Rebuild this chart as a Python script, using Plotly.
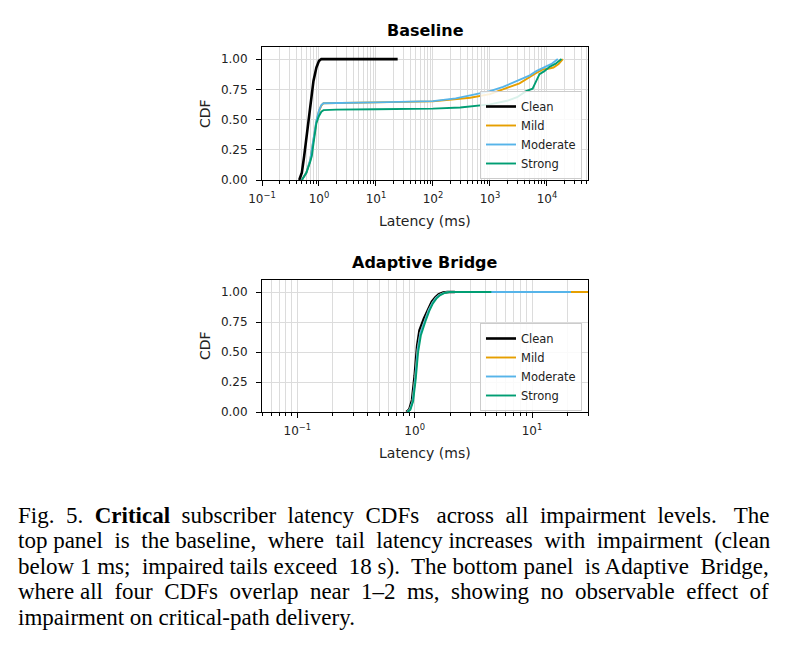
import plotly.graph_objects as go

W, H = 785, 657
OFF = 8  # the page body adds an 8px margin around the figure

# ---- data (latency in ms, CDF) ----
series = ["Clean", "Mild", "Moderate", "Strong"]
colors = ["#000000", "#E69F00", "#56B4E9", "#009E73"]
widths = [2.6, 1.9, 1.9, 1.9]

# Baseline panel
base_clean_x = [0.45, 0.5, 0.55, 0.6, 0.65, 0.7, 0.75, 0.8, 0.9, 1.0, 1.1, 1.5, 3, 10, 24]
base_clean_y = [0, 0.06, 0.2, 0.35, 0.5, 0.63, 0.74, 0.82, 0.93, 0.985, 1.0, 1.0, 1.0, 1.0, 1.0]
base_mild_x = [0.5, 0.6, 0.7, 0.8, 0.85, 0.9, 1.0, 1.1, 1.2, 2, 10, 100, 250, 450, 1000,
               1700, 3300, 6500, 8500, 10500, 13000, 16000, 19000]
base_mild_y = [0, 0.06, 0.16, 0.32, 0.42, 0.48, 0.57, 0.615, 0.635, 0.638, 0.642, 0.65, 0.665,
               0.68, 0.71, 0.748, 0.80, 0.885, 0.915, 0.92, 0.93, 0.96, 1.0]
base_mod_x = [0.5, 0.6, 0.7, 0.8, 0.85, 0.9, 1.0, 1.1, 1.2, 2, 10, 100, 250, 450, 1000,
              1700, 3300, 5000, 6500, 9800, 12000, 15500]
base_mod_y = [0, 0.06, 0.165, 0.33, 0.43, 0.49, 0.575, 0.62, 0.635, 0.638, 0.642, 0.652, 0.675,
              0.70, 0.735, 0.77, 0.83, 0.865, 0.90, 0.94, 0.96, 1.0]
base_strong_x = [0.5, 0.6, 0.7, 0.75, 0.8, 0.85, 0.9, 1.0, 1.1, 1.2, 2, 10, 100, 300, 1000,
                 2000, 3000, 4300, 5600, 6500, 7400, 9000, 11000, 14000, 18000]
base_strong_y = [0, 0.06, 0.15, 0.2, 0.3, 0.4, 0.47, 0.53, 0.565, 0.578, 0.582, 0.585, 0.59,
                 0.6, 0.625, 0.655, 0.685, 0.735, 0.755, 0.82, 0.875, 0.9, 0.935, 0.96, 1.0]

# Adaptive Bridge panel
ab_clean_x = [0.85, 0.9, 0.95, 1.0, 1.05, 1.1, 1.2, 1.3, 1.4, 1.5, 1.6, 1.75, 1.9, 2.2]
ab_clean_y = [0, 0.02, 0.1, 0.3, 0.55, 0.68, 0.78, 0.86, 0.92, 0.955, 0.98, 0.995, 1.0, 1.0]
ab_mild_x = [0.86, 0.91, 0.96, 1.01, 1.06, 1.12, 1.22, 1.32, 1.42, 1.52, 1.62, 1.78, 1.95, 5, 20, 35]
ab_mild_y = [0, 0.02, 0.09, 0.28, 0.52, 0.66, 0.76, 0.85, 0.91, 0.95, 0.975, 0.993, 1.0, 1.0, 1.0, 1.0]
ab_mod_x = [0.86, 0.91, 0.96, 1.01, 1.06, 1.12, 1.22, 1.32, 1.42, 1.52, 1.62, 1.78, 1.95, 5, 21.5]
ab_mod_y = [0, 0.02, 0.09, 0.28, 0.52, 0.66, 0.76, 0.85, 0.91, 0.95, 0.975, 0.993, 1.0, 1.0, 1.0]
ab_strong_x = [0.87, 0.92, 0.97, 1.02, 1.07, 1.13, 1.23, 1.33, 1.43, 1.53, 1.64, 1.8, 1.97, 4.5]
ab_strong_y = [0, 0.02, 0.09, 0.27, 0.5, 0.64, 0.75, 0.84, 0.905, 0.945, 0.972, 0.992, 1.0, 1.0]

base_data = [(base_clean_x, base_clean_y), (base_mild_x, base_mild_y),
             (base_mod_x, base_mod_y), (base_strong_x, base_strong_y)]
ab_data = [(ab_clean_x, ab_clean_y), (ab_mild_x, ab_mild_y),
           (ab_mod_x, ab_mod_y), (ab_strong_x, ab_strong_y)]

y_ticks = [0, 0.25, 0.5, 0.75, 1.0]
top_major = [0.1, 1, 10, 100, 1000, 10000]
top_labels = ["10<sup>\u22121</sup>", "10<sup>0</sup>", "10<sup>1</sup>",
              "10<sup>2</sup>", "10<sup>3</sup>", "10<sup>4</sup>"]
bot_major = [0.1, 1, 10]
bot_labels = ["10<sup>\u22121</sup>", "10<sup>0</sup>", "10<sup>1</sup>"]

caption = [
    "Fig. 5.\u00a0\u00a0<b>Critical</b> subscriber latency CDFs across all impairment levels. The",
    "top panel is the baseline, where tail latency increases with impairment (clean",
    "below 1 ms; impaired tails exceed 18 s). The bottom panel is Adaptive Bridge,",
    "where all four CDFs overlap near 1\u20132 ms, showing no observable effect of",
    "impairment on critical-path delivery.",
]
# extra spaces per line to imitate the justified caption
caption_pad = [11, 8, 5, 11, 0]


def px(x):
    return (x - OFF) / W


def py(y):
    return 1 - (y - OFF) / H


def minor_vals(lo_dec, hi_dec):
    vals = []
    for d in range(lo_dec, hi_dec + 1):
        for m in range(2, 10):
            vals.append(m * 10.0 ** d)
    return vals


def justify(line, n):
    words = line.split(" ")
    gaps = len(words) - 1
    out = words[0]
    for g in range(gaps):
        k = (g + 1) * n // gaps - g * n // gaps
        out += "\u00a0" * k + " " + words[g + 1]
    return out


fig = go.Figure()

for i, name in enumerate(series):
    x, y = base_data[i]
    fig.add_trace(go.Scatter(x=x, y=y, mode="lines", name=name,
                             line=dict(color=colors[i], width=widths[i]),
                             xaxis="x", yaxis="y", legend="legend"))
for i, name in enumerate(series):
    x, y = ab_data[i]
    fig.add_trace(go.Scatter(x=x, y=y, mode="lines", name=name,
                             line=dict(color=colors[i], width=widths[i]),
                             xaxis="x2", yaxis="y2", legend="legend2"))

tick_font = dict(family="DejaVu Sans", size=12, color="#222")
grid = "#dcdcdc"

common_x = dict(type="log", showline=True, linecolor="black", linewidth=1, mirror=True,
                ticks="outside", ticklen=5, tickcolor="black", tickfont=tick_font,
                showgrid=True, gridcolor=grid, gridwidth=1, zeroline=False,
                ticklabelstandoff=3, automargin=False)
common_y = dict(range=[0, 1.1], tickvals=y_ticks, tickformat=".2f", showline=True,
                linecolor="black", linewidth=1, mirror=True, ticks="outside", ticklen=5,
                tickcolor="black", tickfont=tick_font, showgrid=True, gridcolor=grid,
                zeroline=False, ticklabelstandoff=6, automargin=False)

legend_style = dict(xanchor="right", yanchor="bottom", bgcolor="rgba(255,255,255,0.85)",
                    bordercolor="#cccccc", borderwidth=1, tracegroupgap=0,
                    font=dict(family="DejaVu Sans", size=11.5, color="#222"))

fig.update_layout(
    width=W, height=H,
    margin=dict(l=0, r=0, t=0, b=0, autoexpand=False),
    paper_bgcolor="white", plot_bgcolor="white",
    showlegend=True,
    xaxis=dict(common_x, domain=[px(262), px(588)], range=[-1, 4.72], anchor="y",
               tickvals=top_major, ticktext=top_labels,
               minor=dict(tickmode="array", tickvals=minor_vals(-1, 4), ticks="outside",
                          ticklen=3, tickcolor="black", showgrid=True, gridcolor=grid)),
    yaxis=dict(common_y, domain=[py(180), py(47)], anchor="x"),
    xaxis2=dict(common_x, domain=[px(262), px(588)], range=[-1.301, 1.477], anchor="y2",
                tickvals=bot_major, ticktext=bot_labels,
                minor=dict(tickmode="array", tickvals=minor_vals(-2, 1), ticks="outside",
                           ticklen=3, tickcolor="black", showgrid=True, gridcolor=grid)),
    yaxis2=dict(common_y, domain=[py(412), py(280)], anchor="x2"),
    legend=dict(legend_style, x=px(582), y=py(179)),
    legend2=dict(legend_style, x=px(582), y=py(411)),
)

label_font = dict(family="DejaVu Sans", size=14, color="#222")
title_font = dict(family="DejaVu Sans", size=16, color="black")
ann = [
    dict(x=px(425), y=py(30), text="<b>Baseline</b>", font=title_font),
    dict(x=px(425), y=py(262), text="<b>Adaptive Bridge</b>", font=title_font),
    dict(x=px(425), y=py(221), text="Latency (ms)", font=label_font),
    dict(x=px(425), y=py(453), text="Latency (ms)", font=label_font),
    dict(x=px(205), y=py(114), text="CDF", font=label_font, textangle=-90),
    dict(x=px(205), y=py(346), text="CDF", font=label_font, textangle=-90),
]
for a in ann:
    fig.add_annotation(xref="paper", yref="paper", showarrow=False,
                       xanchor="center", yanchor="middle", **a)

cap_font = dict(family="Liberation Serif", size=23, color="black")
for i, line in enumerate(caption):
    fig.add_annotation(xref="paper", yref="paper", showarrow=False,
                       x=px(17), y=py(515 + i * 25.6), xanchor="left", yanchor="middle",
                       text=justify(line, caption_pad[i]), font=cap_font, align="left",
                       borderpad=0)

fig.write_html("out.html")
